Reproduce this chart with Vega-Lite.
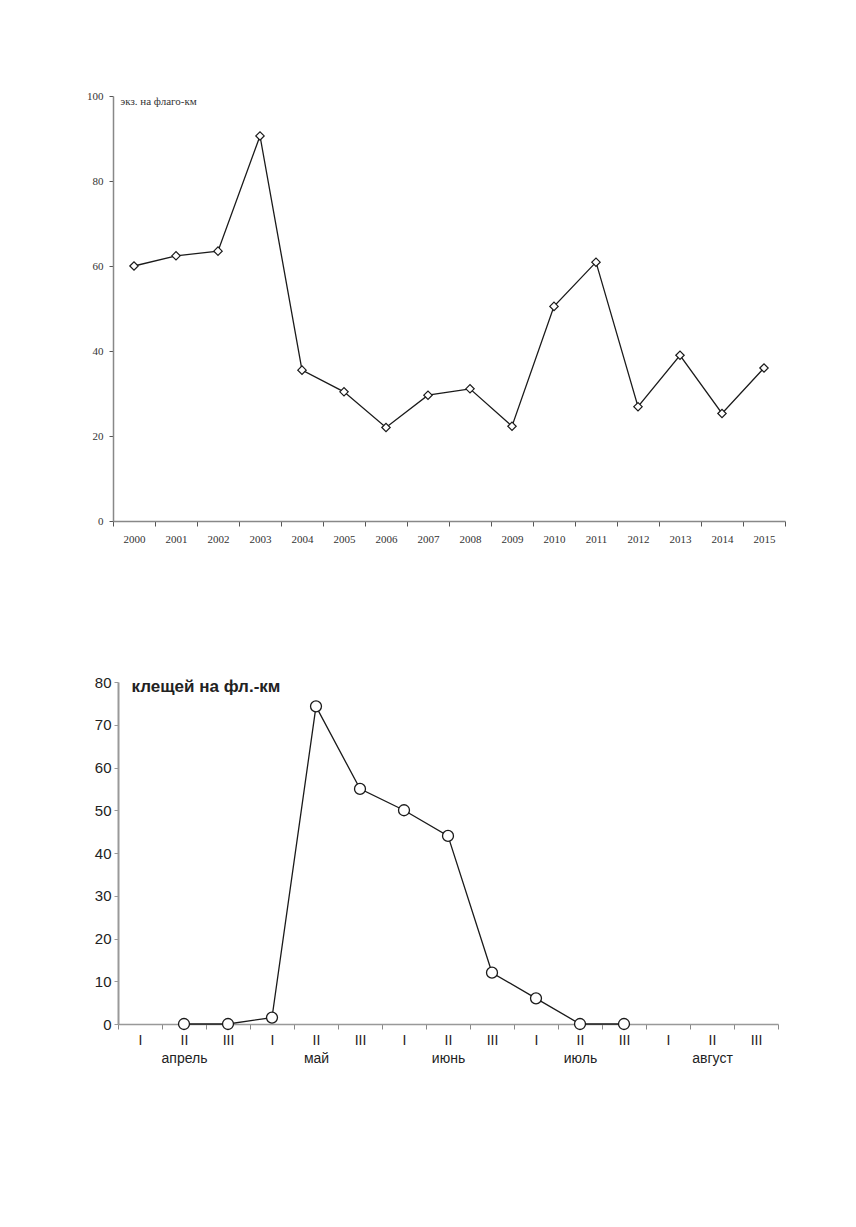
{
  "$schema": "https://vega.github.io/schema/vega-lite/v6.json",
  "autosize": "none",
  "background": "white",
  "padding": {"left": 113, "top": 96, "right": 743, "bottom": 1131},
  "spacing": 161,
  "bounds": "flush",
  "datasets": {
    "years": [
      {"year": "2000", "value": 60.0},
      {"year": "2001", "value": 62.4},
      {"year": "2002", "value": 63.5},
      {"year": "2003", "value": 90.6},
      {"year": "2004", "value": 35.5},
      {"year": "2005", "value": 30.4},
      {"year": "2006", "value": 22.0},
      {"year": "2007", "value": 29.6},
      {"year": "2008", "value": 31.1},
      {"year": "2009", "value": 22.3},
      {"year": "2010", "value": 50.5},
      {"year": "2011", "value": 60.9},
      {"year": "2012", "value": 26.9},
      {"year": "2013", "value": 39.0},
      {"year": "2014", "value": 25.3},
      {"year": "2015", "value": 36.0}
    ],
    "season": [
      {"period": "II апрель", "value": 0},
      {"period": "III апрель", "value": 0},
      {"period": "I май", "value": 1.5},
      {"period": "II май", "value": 74.3},
      {"period": "III май", "value": 55.0},
      {"period": "I июнь", "value": 50.0},
      {"period": "II июнь", "value": 44.0},
      {"period": "III июнь", "value": 12.0},
      {"period": "I июль", "value": 6.0},
      {"period": "II июль", "value": 0},
      {"period": "III июль", "value": 0}
    ]
  },
  "vconcat": [
    {
      "width": 672,
      "height": 425,
      "data": {"name": "years"},
      "encoding": {
        "x": {
          "field": "year",
          "type": "ordinal",
          "sort": null,
          "scale": {"paddingInner": 0, "paddingOuter": 0},
          "axis": {
            "title": null,
            "labelAngle": 0,
            "tickBand": "extent",
            "labelExpr": "datum.value ? datum.value : ''",
            "labelFont": "Liberation Serif",
            "labelFontSize": 11,
            "labelColor": "#333333",
            "labelPadding": 7,
            "tickSize": 5,
            "tickColor": "#555555",
            "domainColor": "#888888",
            "domainWidth": 1.5
          }
        },
        "y": {
          "field": "value",
          "type": "quantitative",
          "scale": {"domain": [0, 100], "nice": false},
          "axis": {
            "title": "экз. на флаго-км",
            "titleAngle": 0,
            "titleAlign": "left",
            "titleBaseline": "middle",
            "titleX": 7,
            "titleY": 5,
            "titleFont": "Liberation Serif",
            "titleFontSize": 11,
            "titleFontWeight": "normal",
            "titleColor": "#333333",
            "values": [0, 20, 40, 60, 80, 100],
            "grid": false,
            "labelFont": "Liberation Serif",
            "labelFontSize": 11,
            "labelColor": "#333333",
            "labelPadding": 6,
            "tickSize": 4,
            "tickColor": "#555555",
            "domainColor": "#888888",
            "domainWidth": 1.5
          }
        }
      },
      "layer": [
        {"mark": {"type": "line", "color": "#1a1a1a", "strokeWidth": 1.3}},
        {
          "mark": {
            "type": "point",
            "shape": "diamond",
            "filled": true,
            "fill": "white",
            "stroke": "#1a1a1a",
            "strokeWidth": 1.2,
            "size": 70,
            "opacity": 1
          }
        }
      ]
    },
    {
      "width": 665,
      "height": 342,
      "data": {"name": "season"},
      "encoding": {
        "x": {
          "field": "period",
          "type": "ordinal",
          "scale": {
            "domain": [
              "I апрель", "II апрель", "III апрель",
              "I май", "II май", "III май",
              "I июнь", "II июнь", "III июнь",
              "I июль", "II июль", "III июль",
              "I август", "II август", "III август"
            ],
            "range": [5, 665],
            "paddingInner": 0,
            "paddingOuter": 0
          },
          "axis": {
            "title": null,
            "labelAngle": 0,
            "tickBand": "extent",
            "labelExpr": "!datum.value ? '' : (split(datum.value, ' ')[0] == 'II' ? split(datum.value, ' ') : split(datum.value, ' ')[0])",
            "labelLineHeight": 18,
            "labelFont": "Liberation Sans",
            "labelFontSize": 14,
            "labelColor": "#222222",
            "labelPadding": 4,
            "tickSize": 5,
            "tickColor": "#888888",
            "domainColor": "#999999",
            "domainWidth": 1.5
          }
        },
        "y": {
          "field": "value",
          "type": "quantitative",
          "scale": {"domain": [0, 80], "nice": false},
          "axis": {
            "title": "клещей на фл.-км",
            "titleAngle": 0,
            "titleAlign": "left",
            "titleBaseline": "middle",
            "titleX": 13,
            "titleY": 4,
            "titleFont": "Liberation Sans",
            "titleFontSize": 17,
            "titleFontWeight": "bold",
            "titleColor": "#222222",
            "offset": -5,
            "values": [0, 10, 20, 30, 40, 50, 60, 70, 80],
            "grid": false,
            "labelFont": "Liberation Sans",
            "labelFontSize": 15,
            "labelColor": "#222222",
            "labelPadding": 3,
            "tickSize": 4,
            "tickColor": "#999999",
            "domainColor": "#999999",
            "domainWidth": 2
          }
        }
      },
      "layer": [
        {"mark": {"type": "line", "color": "#1a1a1a", "strokeWidth": 1.3}},
        {
          "mark": {
            "type": "point",
            "shape": "circle",
            "filled": true,
            "fill": "white",
            "stroke": "#1a1a1a",
            "strokeWidth": 1.3,
            "size": 120,
            "opacity": 1
          }
        }
      ]
    }
  ],
  "config": {
    "view": {"stroke": null}
  }
}
